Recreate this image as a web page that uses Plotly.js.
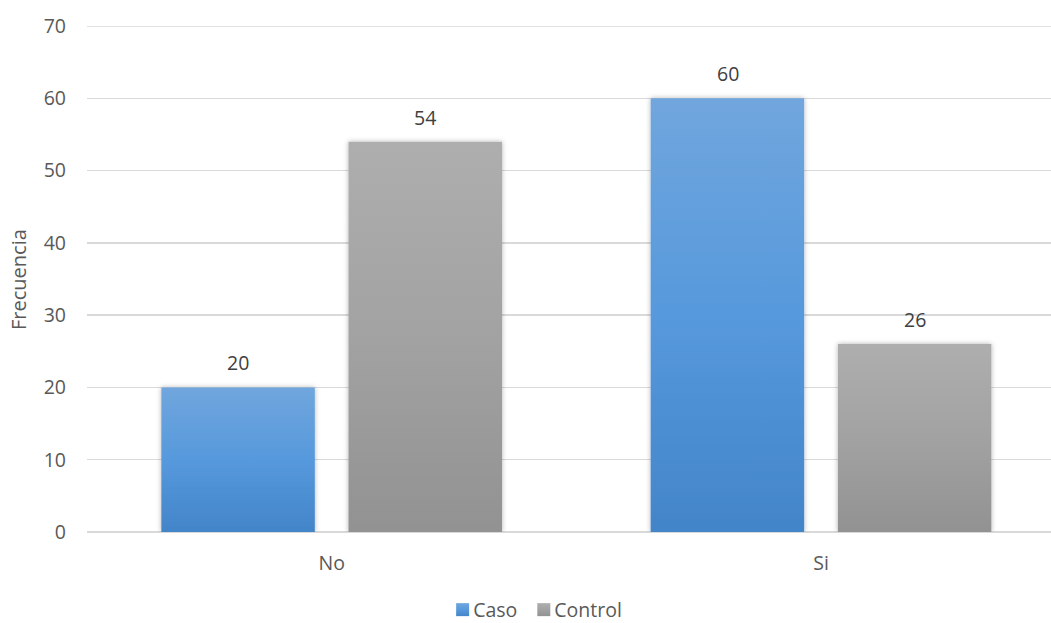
<!DOCTYPE html>
<html>
<head>
<meta charset="utf-8">
<script src="https://cdn.plot.ly/plotly-3.0.1.min.js"></script>
<style>
  html, body { margin: 0; padding: 0; background: #ffffff; }
  #chart { width: 1051px; height: 623px; }
</style>
</head>
<body>
<div id="chart"></div>
<script>
// Categories and series
const categories = ['No', 'Si'];
const casoValues = [20, 60];
const controlValues = [54, 26];
const seriesNames = ['Caso', 'Control'];
const yTicks = [0, 10, 20, 30, 40, 50, 60, 70];
const yTitle = 'Frecuencia';

const FONT = '"Open Sans", "DejaVu Sans", sans-serif';
const FS = 19.5;

const traces = [
  {
    type: 'bar', name: seriesNames[0], x: categories, y: casoValues,
    marker: { color: '#5b9bd5' }, hoverinfo: 'none'
  },
  {
    type: 'bar', name: seriesNames[1], x: categories, y: controlValues,
    marker: { color: '#a5a5a5' }, hoverinfo: 'none'
  }
];

// Value labels above every bar
const annotations = [];
[casoValues, controlValues].forEach((vals, si) => {
  vals.forEach((v, i) => {
    annotations.push({
      x: categories[i], y: v, xref: 'x', yref: 'y',
      xshift: si === 0 ? -93.5 : 93.5, yshift: 9,
      text: String(v), showarrow: false, yanchor: 'bottom',
      font: { family: FONT, size: FS, color: '#404040' }
    });
  });
});
// Vertical y-axis title in the left margin
annotations.push({
  xref: 'paper', yref: 'paper', x: -0.0716, y: 0.5,
  xanchor: 'center', yanchor: 'middle', textangle: -90,
  text: yTitle, showarrow: false,
  font: { family: FONT, size: 20, color: '#595959' }
});

const layout = {
  width: 1051, height: 623,
  margin: { l: 87, r: 0, t: 26, b: 91, autoexpand: false },
  paper_bgcolor: '#ffffff', plot_bgcolor: '#ffffff',
  font: { family: FONT, size: FS, color: '#595959' },
  barmode: 'group', bargap: 0.235, bargroupgap: 0.18,
  xaxis: {
    type: 'category', range: [-0.5, 1.47],
    showgrid: false, showline: false, zeroline: false,
    ticks: '', ticklabelstandoff: 17,
    tickfont: { family: FONT, size: FS, color: '#595959' }
  },
  yaxis: {
    range: [0, 70], tickvals: yTicks, ticktext: yTicks.map(String),
    showgrid: true, gridcolor: '#d9d9d9', gridwidth: 1.5,
    zeroline: true, zerolinecolor: '#d9d9d9', zerolinewidth: 2,
    showline: false, ticks: '', ticklabelstandoff: 20,
    tickfont: { family: FONT, size: FS, color: '#595959' }
  },
  // top gridline sits on the plot edge, so draw it explicitly
  shapes: [{
    type: 'line', xref: 'paper', yref: 'y', x0: 0, x1: 1,
    y0: yTicks[yTicks.length - 1], y1: yTicks[yTicks.length - 1],
    line: { color: '#d9d9d9', width: 1.5 }, layer: 'below'
  }],
  showlegend: true,
  legend: {
    orientation: 'h', x: 0.47, xanchor: 'center', y: -0.16, yanchor: 'middle',
    font: { family: FONT, size: FS, color: '#595959' },
    itemwidth: 30, traceorder: 'normal'
  },
  annotations: annotations
};

// Gradient fills and soft shadow for the bars, applied to Plotly's own SVG paths
function decorate(gd) {
  const svgNS = 'http://www.w3.org/2000/svg';
  const svg = gd.querySelector('svg.main-svg');
  let defs = svg.querySelector('defs');
  if (!defs) { defs = document.createElementNS(svgNS, 'defs'); svg.insertBefore(defs, svg.firstChild); }
  const grads = [
    { id: 'gradCaso', top: '#70a6dd', mid: '#5699dc', bottom: '#4285c8' },
    { id: 'gradControl', top: '#aeaeae', mid: '#a2a2a2', bottom: '#929292' }
  ];
  grads.forEach(g => {
    const lg = document.createElementNS(svgNS, 'linearGradient');
    lg.setAttribute('id', g.id);
    lg.setAttribute('x1', '0'); lg.setAttribute('y1', '0');
    lg.setAttribute('x2', '0'); lg.setAttribute('y2', '1');
    [[0, g.top], [0.5, g.mid], [1, g.bottom]].forEach(([o, c]) => {
      const s = document.createElementNS(svgNS, 'stop');
      s.setAttribute('offset', o); s.setAttribute('stop-color', c);
      lg.appendChild(s);
    });
    defs.appendChild(lg);
  });
  const f = document.createElementNS(svgNS, 'filter');
  f.setAttribute('id', 'barShadow');
  f.setAttribute('x', '-20%'); f.setAttribute('y', '-20%');
  f.setAttribute('width', '140%'); f.setAttribute('height', '140%');
  const ds = document.createElementNS(svgNS, 'feDropShadow');
  ds.setAttribute('dx', '0'); ds.setAttribute('dy', '0');
  ds.setAttribute('stdDeviation', '2.5');
  ds.setAttribute('flood-color', '#000'); ds.setAttribute('flood-opacity', '0.3');
  f.appendChild(ds);
  defs.appendChild(f);

  const barTraces = gd.querySelectorAll('.barlayer .trace');
  barTraces.forEach((t, i) => {
    t.querySelectorAll('path').forEach(p => {
      p.style.fill = 'url(#' + grads[i].id + ')';
      p.setAttribute('filter', 'url(#barShadow)');
    });
  });

  // Compact legend: swatch right next to its label, items packed side by side
  const legend = gd.querySelector('.legend');
  legend.querySelectorAll('[clip-path]').forEach(el => el.removeAttribute('clip-path'));
  const legTraces = Array.from(legend.querySelectorAll('.traces'));
  const SW = 13, TEXT_GAP = 4, ITEM_GAP = 20;
  const widths = [];
  legTraces.forEach((t, i) => {
    t.querySelectorAll('.legendpoints path').forEach(p => {
      p.style.fill = 'url(#' + grads[i].id + ')';
      p.setAttribute('d', 'M6.5,6.5H-6.5V-6.5H6.5Z');
      p.setAttribute('transform', 'translate(6.5,0)');
    });
    const pts = t.querySelector('.legendpoints');
    if (pts) pts.setAttribute('transform', 'translate(0,0)');
    const txt = t.querySelector('text.legendtext');
    txt.setAttribute('x', SW + TEXT_GAP);
    widths.push(SW + TEXT_GAP + txt.getComputedTextLength());
  });
  const total = widths.reduce((a, b) => a + b, 0) + ITEM_GAP * (widths.length - 1);
  const centerX = 539;
  let cursor = centerX - total / 2;
  const lt = legend.getAttribute('transform') || '';
  const m = /translate\(\s*([-\d.]+)[ ,]+([-\d.]+)/.exec(lt);
  const lx = m ? parseFloat(m[1]) : 0;
  legTraces.forEach((t, i) => {
    const tr = t.getAttribute('transform') || '';
    const mm = /translate\(\s*([-\d.]+)[ ,]+([-\d.]+)/.exec(tr);
    const ty = (mm ? parseFloat(mm[2]) : 0) - 3;
    t.setAttribute('transform', 'translate(' + (cursor - lx) + ',' + ty + ')');
    cursor += widths[i] + ITEM_GAP;
  });
  const bg = legend.querySelector('rect.bg');
  if (bg) bg.style.display = 'none';
}

Plotly.newPlot('chart', traces, layout, { staticPlot: true, displayModeBar: false })
  .then(decorate);
</script>
</body>
</html>
